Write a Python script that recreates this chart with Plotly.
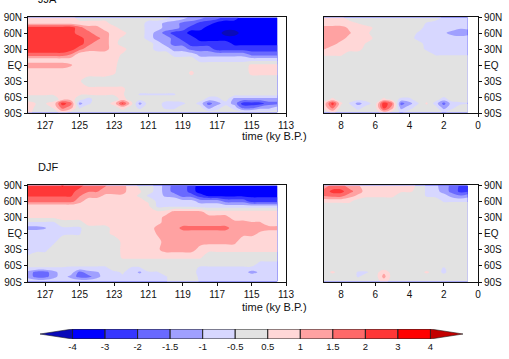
import numpy as np
import plotly.graph_objects as go

# ---------------- data ----------------
LAT = [89, 78, 70, 60, 50, 40, 30, 20, 10, 0, -15, -30, -45, -55, -64, -72, -80, -89]

T_LIG = [128.0, 127.5, 127.0, 126.5, 126.0, 125.5, 125.0, 124.5, 124.0, 123.5,
         123.0, 122.5, 122.0, 121.5, 121.0, 120.5, 120.0, 119.5, 119.0, 118.5,
         118.0, 117.5, 117.0, 116.5, 116.0, 115.5, 115.0, 114.5, 114.0, 113.5]
T_HOL = [9.0, 8.5, 8.0, 7.5, 7.0, 6.5, 6.0, 5.5, 5.0, 4.5, 4.0, 3.5, 3.0, 2.5, 2.0, 1.5, 1.0, 0.6]

JJA_LIG = [
    [0.7, 0.7, 0.7, 0.7, 0.7, 0.7, 0, 0, 0, 0, 0, 0, 0, 0, 0, 0, 0, -0.7, -0.7, -1.2, -1.2, -1.7, -1.7, -2.5, -2.5, -3.5, -3.5, -3.5, -3.5, -3.5],
    [0.9, 0.9, 0.9, 0.9, 0.9, 0.9, 0.7, 0.7, 0.7, 0.7, 0, 0, 0, 0, -0.7, -0.7, -1.2, -1.2, -1.7, -1.7, -2.5, -2.5, -3.5, -3.5, -3.5, -3.5, -3.5, -3.5, -3.5, -3.5],
    [2.5, 2.5, 2.5, 2.5, 2.5, 2.5, 1.7, 1.2, 1.2, 0.7, 0.7, 0, 0, 0, -0.7, -0.7, -1.2, -1.2, -1.7, -2.5, -2.5, -3.5, -3.5, -3.5, -3.5, -3.5, -3.5, -3.5, -3.5, -3.5],
    [2.5, 2.5, 2.5, 2.5, 2.5, 2.5, 1.7, 1.7, 1.2, 1.2, 0.7, 0.7, 0, 0, -0.7, -1.2, -1.7, -2.5, -2.5, -3.5, -3.5, -3.5, -3.5, -4.5, -4.5, -3.5, -3.5, -3.5, -3.5, -3.5],
    [2.5, 2.5, 2.5, 2.5, 2.5, 2.5, 2.5, 1.7, 1.7, 1.2, 0.7, 0.3, 0, 0, -0.7, -1.2, -1.2, -1.7, -2.5, -2.5, -3.5, -3.5, -3.5, -3.5, -3.5, -3.5, -3.5, -3.5, -3.5, -3.5],
    [2.5, 2.5, 2.5, 2.5, 2.5, 2.5, 2.5, 1.7, 1.2, 1.2, 0.7, 0, 0, 0, 0, -0.7, -1.2, -1.7, -1.7, -2.5, -2.5, -2.5, -2.5, -2.5, -3.2, -3.2, -3.2, -3.2, -3.2, -3.2],
    [2.5, 2.5, 2.5, 2.5, 2.5, 2.5, 1.7, 1.2, 1.2, 1.2, 0.7, 0.7, 0, 0, 0, -0.7, -0.7, -1.2, -1.2, -1.7, -1.7, -1.7, -2.5, -2.5, -2.5, -2.5, -2.5, -2.5, -2.5, -2.5],
    [1.9, 1.9, 1.9, 1.9, 1.9, 1.5, 0.7, 0.7, 0.7, 0.7, 0.7, 0.4, 0.4, 0, 0, 0, 0, -0.7, -0.7, -0.7, -1.2, -1.2, -1.2, -1.2, -1.2, -1.2, -1.7, -1.7, -1.7, -1.7],
    [0.7, 0.7, 0.7, 0.7, 0.7, 0.7, 0.7, 0.7, 0.7, 0.7, 0.6, 0.3, 0.3, 0, 0, 0, 0, 0, 0, 0, -0.7, -0.7, -0.7, -0.7, -0.7, -0.7, -0.7, -0.7, -0.7, -0.7],
    [1.2, 1.2, 1.2, 1.2, 1.2, 1.05, 0.7, 0.7, 0.7, 0.7, 0.55, 0.3, 0.3, 0, 0, 0, 0, 0, 0, 0, 0, 0, 0, 0, 0, 0, 0.6, 0.6, 0.6, 0.6],
    [0.7, 0.7, 0.7, 0.7, 0.7, 0.7, 0.7, 0.7, 0.7, 0.7, 0.55, 0, 0, 0, 0, 0, 0, 0, 0, 0.6, 0, 0, 0, 0, 0, 0, 0.6, 0.6, 0.6, 0.6],
    [0.55, 0.55, 0.55, 0.55, 0.55, 0.55, 0.55, 0, 0, 0, 0, 0, 0, 0, 0, 0, 0, 0, 0, 0, 0, 0, 0, 0, 0, 0, 0, 0, 0, 0],
    [0.6, 0.6, 0.6, 0.6, 0.6, 0.6, 0.6, 0.6, 0.6, 0.6, 0.6, 0.6, 0, 0, 0, 0, 0, 0, 0, 0, 0, 0, 0, 0, 0, 0, 0, 0, 0, 0],
    [0.55, 0.55, 0.55, 0.55, 0.55, 0.55, 0.55, 0.55, 0.55, 0.55, 0.55, 0.55, 0, -0.55, -0.55, -0.55, -0.55, -0.55, 0, 0, 0, 0, 0, 0, 0, 0, 0, 0, 0, 0],
    [0, 0, 0, 0, 0.7, 0.7, 0, -0.7, 0, 0, 0, 0.7, 0, 0, 0, 0, 0, 0, 0, 0, 0, -0.7, -0.7, 0, -1.2, -1.2, -1.2, -1.2, -1.2, -1.2],
    [0.7, 0.45, 0.45, 0.7, 2.5, 1.7, -1.2, -0.6, 0, 0, 0.7, 2.2, 0.7, -1.2, 0, 0, -0.7, -0.7, -0.6, 0, -0.7, -1.7, -1.2, -0.7, -1.2, -2.5, -2.5, -2.5, -1.7, -1.7],
    [0.7, 0.3, 0, 0.55, 1.7, 1.2, -0.55, 0, 0, 0, 0, 0.7, 0, -0.6, 0, 0, -0.6, -0.6, 0, 0, 0, -1.2, -0.7, 0, -0.7, -1.7, -1.7, -1.2, -1.2, -0.7],
    [0.7, 0, 0, 0, 0.7, 0, 0, 0, 0, 0, 0, 0, 0, 0, 0, 0, 0, 0, 0, 0, 0, 0, 0, 0, 0, 0, 0, 0, 0, 0],
]

JJA_HOL = [
    [0.6, 0.6, 0.6, 0, 0, 0, 0, 0, 0, 0, 0, 0, 0, 0, -0.6, -0.6, -0.6, -0.6],
    [0.7, 0.7, 0.7, 0.7, 0.5, 0, 0, 0, 0, 0, 0, 0, -0.55, -0.7, -0.7, -0.7, -0.7, -0.7],
    [1.2, 1.2, 1.2, 0.9, 0.7, 0.7, 0.3, 0, 0, 0, 0, 0, -0.7, -0.7, -0.7, -0.7, -0.9, -0.9],
    [1.2, 1.2, 1.2, 1.05, 0.7, 0.6, 0, 0, 0, 0, 0, -0.55, -0.7, -0.7, -0.9, -1.2, -1.4, -1.2],
    [1.2, 1.2, 1.2, 0.8, 0.7, 0.7, 0.3, 0, 0, 0, 0, -0.7, -0.7, -0.7, -0.7, -0.7, -0.7, -0.7],
    [1.2, 1.2, 0.8, 0.7, 0.7, 0.4, 0, 0, 0, 0, 0, 0, -0.7, -0.7, -0.7, -0.7, -0.7, -0.7],
    [1.05, 0.7, 0.7, 0.7, 0.7, 0, 0, 0, 0, 0, 0, 0, -0.6, -0.6, -0.6, -0.6, -0.6, -0.6],
    [0.6, 0.6, 0.6, 0, 0, 0, 0, 0, 0, 0, 0, 0, 0, -0.55, -0.55, -0.55, -0.55, -0.55],
    [0, 0, 0, 0, 0, 0, 0, 0, 0, 0, 0, 0, 0, 0, 0, 0, 0, 0],
    [0, 0, 0, 0, 0, 0, 0, 0, 0, 0, 0, 0, 0, 0, 0, 0, 0, 0],
    [0, 0, 0, 0, 0, 0, 0, 0, 0, 0, 0, 0, 0, 0, 0, 0, 0, 0],
    [0, 0, 0, 0, 0, 0, 0, 0, 0, 0, 0, 0, 0, 0, 0, 0, 0, 0],
    [0, 0, 0, 0, 0, 0, 0, 0, 0, 0, 0, 0, 0, 0, 0, 0, 0, 0],
    [0, 0, 0, 0, 0, 0, 0, 0, 0, 0, 0, 0, 0, 0, 0, 0, 0, 0],
    [0, 0.6, 0, 0, 0, 0, 0, 0.6, 0, -0.6, -0.6, 0, 0, 0, -0.7, 0, 0, 0],
    [0.7, 2.5, 0.6, -0.55, -1.2, -0.7, 0, 2.8, 1.5, -1.7, -1.2, -0.55, 0.6, -0.7, -1.7, -0.7, -0.6, -0.55],
    [0.6, 1.7, 0, 0, -0.7, 0, 0, 2.5, 1.2, -1.2, -0.7, 0, 0, 0, -1.2, -0.6, 0, 0],
    [0, 0.6, 0, 0, 0, 0, 0, 0.8, 0, -0.55, 0, 0, 0, 0, -0.55, 0, 0, 0],
]

DJF_LIG = [
    [2.5, 2.5, 2.5, 2.5, 3.1, 2.5, 2.5, 1.7, 1.7, 1.55, 1.2, 1.2, 0.7, 0.3, 0, -0.7, -1.2, -1.7, -1.7, -2.5, -3.5, -3.5, -3.5, -3.5, -3.5, -3.5, -3.5, -3.5, -3.5, -3.5],
    [2.5, 2.5, 2.5, 2.5, 2.5, 2.5, 1.7, 1.55, 1.55, 1.2, 1.2, 1.2, 0.7, 0.55, 0, -0.7, -1.2, -1.7, -1.7, -2.5, -3.5, -3.5, -3.5, -3.5, -3.5, -3.5, -3.5, -3.5, -3.5, -3.5],
    [2.1, 2.1, 2.1, 2.1, 2.1, 2.1, 1.55, 1.2, 1.2, 0.9, 0.9, 0.9, 0.6, 0.4, -0.6, -0.7, -1.1, -1.2, -1.7, -1.7, -2.5, -3.2, -3.2, -3.2, -3.2, -3.2, -3.2, -3.2, -3.2, -3.2],
    [1.7, 1.7, 1.7, 1.7, 1.7, 1.7, 1.2, 0.7, 0.7, 0.7, 0.7, 0.7, 0.6, 0.6, 0.4, -0.6, -0.6, -0.6, -0.8, -0.8, -1.2, -1.2, -1.2, -1.7, -1.7, -1.7, -2.5, -2.5, -2.5, -2.5],
    [0.6, 0.6, 0.6, 0.6, 0.6, 0.6, 0.6, 0.6, 0.6, 0.6, 0.6, 0.6, 0.6, 0.6, 0.6, -0.55, -0.55, -0.55, -0.55, -0.55, -0.7, -0.7, -0.7, -0.7, -0.7, -0.7, -0.7, -0.7, -0.7, -0.7],
    [0.6, 0.6, 0.6, 0.6, 0.6, 0.6, 0.6, 0.6, 0.6, 0.6, 0.6, 0.6, 0.6, 0.6, 0.6, 0.6, 0.7, 1.2, 1.2, 1.2, 1.2, 0.7, 0.7, 0.7, 0.7, 0.7, 0.7, 0.7, 0.7, 0.7],
    [0.6, 0.6, 0.6, 0.6, 0.6, 0.6, 0.6, 0.6, 0.6, 0.6, 0.6, 0.6, 0.6, 0.6, 0.6, 0.7, 1.2, 1.2, 1.2, 1.2, 1.2, 1.2, 1.2, 1.2, 0.7, 0.7, 0.7, 0.7, 0.7, 0.7],
    [-0.6, -0.6, -0.6, -0.6, 0.3, 0.3, 0.3, 0.6, 0.6, 0.6, 0.6, 0.6, 0.6, 0.6, 0.6, 0.8, 1.2, 1.2, 1.2, 1.2, 1.2, 1.2, 1.2, 1.2, 1.2, 1.2, 1.05, 1.05, 0.7, 0.7],
    [-1.2, -1.2, -1.05, -0.6, -0.6, -0.6, -0.6, 0.3, 0.3, 0.3, 0.6, 0.6, 0.6, 0.6, 0.6, 1.2, 1.2, 1.2, 1.7, 1.7, 1.7, 1.7, 1.7, 1.7, 1.2, 1.2, 1.2, 1.2, 1.2, 1.2],
    [-0.6, -0.6, -0.6, -0.6, -0.6, -0.55, -0.55, 0.3, 0.3, 0.3, 0.6, 0.6, 0.6, 0.6, 0.6, 1.05, 1.2, 1.2, 1.2, 1.2, 1.2, 1.2, 1.2, 1.2, 1.2, 1.2, 1.2, 0.9, 0.7, 0.7],
    [-0.6, -0.6, -0.6, -0.6, 0, 0, 0, 0, 0, 0, 0, 0.6, 0.6, 0.6, 0.6, 0.8, 1.2, 1.2, 1.2, 1.2, 1.2, 1.2, 1.2, 1.2, 1.2, 0.6, 0.6, 0.6, 0.6, 0.6],
    [-1.05, -0.6, -0.6, 0, 0, 0, 0, 0, 0, 0, 0, 0.6, 0.6, 0.6, 0.6, 0.9, 1.2, 1.2, 1.2, 1.2, 0.8, 0.6, 0.6, 0.6, 0.6, 0.6, 0.6, 0.6, 0.6, 0.6],
    [0, 0, 0, 0, 0, 0, 0, 0, 0, 0, 0, 0.55, 0.55, 0.55, 0.55, 0.55, 0.55, 0.55, 0.55, 0.55, 0.55, 0, 0, 0, 0, 0, 0, 0, 0, 0],
    [0, 0, 0, 0, 0, 0, 0, 0, 0, 0, 0, 0, 0, 0, 0, 0, 0, 0, 0, 0, 0, 0, 0, 0, 0, 0, 0, -0.6, -0.6, -0.6],
    [-0.55, -0.55, -0.55, -0.55, -0.55, -0.6, -0.6, -0.6, -0.6, -0.6, 0, 0, -0.55, -0.55, 0, 0, 0, 0, 0, 0, -0.6, -0.6, -0.6, -0.6, -0.6, -0.6, -0.6, -0.6, -0.6, -0.6],
    [-1.2, -1.7, -1.7, -1.2, -0.7, -0.7, -1.7, -1.2, -1.05, -0.8, -0.6, -0.4, -0.7, -1.1, -0.55, -0.55, 0, 0, 0, 0, -0.7, -0.7, -0.7, -0.7, -0.7, -0.7, -1.2, -0.9, -0.7, -0.7],
    [-1.2, -1.7, -1.7, -1.2, -0.7, -1.2, -1.7, -1.7, -1.2, -0.7, -0.55, -0.55, -0.7, -0.7, -0.55, -0.55, -0.55, 0, 0, 0, -0.6, -0.6, -0.6, -0.6, -0.6, -0.6, -0.6, -0.6, -0.6, -0.6],
    [-0.6, -0.6, -0.6, -0.6, -0.6, -0.6, -0.6, -0.6, -0.6, -0.6, -0.55, -0.55, -0.55, -0.55, -0.55, -0.55, -0.55, 0, 0, 0, -0.55, -0.55, -0.55, -0.55, -0.55, -0.55, -0.55, -0.55, -0.55, -0.55],
]

DJF_HOL = [
    [1.2, 1.7, 1.7, 1.2, 1.05, 0.7, 0.7, 0.7, 0.7, 0.6, 0.6, 0.4, -0.6, -0.9, -1.2, -1.7, -2.2, -2.1],
    [1.7, 2.3, 2.3, 1.7, 1.2, 0.8, 0.7, 0.7, 0.7, 0.55, 0.55, 0.3, -0.6, -0.8, -1.2, -1.7, -2.3, -2.1],
    [1.55, 1.7, 1.7, 1.2, 0.9, 0.6, 0.6, 0.6, 0.6, 0, 0, 0, -0.55, -0.6, -0.8, -1.2, -1.45, -1.2],
    [0.6, 0.6, 0.6, 0.6, 0, 0, 0, 0, 0, 0, 0, 0, 0, 0, -0.55, -0.55, -0.55, -0.55],
    [0, 0, 0, 0, 0, 0, 0, 0, 0, 0, 0, 0, 0, 0, 0, 0, 0, 0],
    [0, 0, 0, 0, 0, 0, 0, 0, 0, 0, 0, 0, 0, 0, 0, 0, 0, 0],
    [0, 0, 0, 0, 0, 0, 0, 0, 0, 0, 0, 0, 0, 0, 0, 0, 0, 0],
    [0, 0, 0, 0, 0, 0, 0, 0, 0, 0, 0, 0, 0, 0, 0, 0, 0, 0],
    [0, 0, 0, 0, 0, 0, 0, 0, 0, 0, 0, 0, 0, 0, 0, 0, 0, 0],
    [0, 0, 0, 0, 0, 0, 0, 0, 0, 0, 0, 0, 0, 0, 0, 0, 0, 0],
    [0, 0, 0, 0, 0, 0, 0, 0, 0, 0, 0, 0, 0, 0, 0, 0, 0, 0],
    [0, 0, 0, 0, 0, 0, 0, 0, 0, 0, 0, 0, 0, 0, 0, 0, 0, 0],
    [0, 0, 0, 0, 0, 0, 0, 0, 0, 0, 0, 0, 0, 0, 0, 0, 0, 0],
    [0, 0, 0, 0, 0, 0, 0, 0, 0, 0, 0, 0, 0, 0, 0, 0, 0, 0],
    [0, 0, 0, 0, 0, 0, 0, 0, 0, 0, 0, 0, 0, 0, -0.55, 0, 0, 0],
    [0, 0.6, 0, 0, -0.55, -0.55, 0, 0.9, 0, 0, 0, 0, 0.6, 0, -0.6, 0, 0, 0],
    [0, 0, 0, 0, -0.55, 0, 0, 1.2, 0, 0, 0, 0, 0, 0, 0, 0, 0, 0],
    [0, 0, 0, 0, 0, 0, 0, 0.7, 0, 0, 0, 0, 0, 0, 0, 0, 0, 0],
]

LEVELS = [-4, -3, -2, -1.5, -1, -0.5, 0.5, 1, 1.5, 2, 3, 4]
LEVEL_LABELS = ["-4", "-3", "-2", "-1.5", "-1", "-0.5", "0.5", "1", "1.5", "2", "3", "4"]
COLORS = ["rgb(10,10,185)", "rgb(0,0,255)", "rgb(55,55,255)", "rgb(105,105,255)",
          "rgb(160,160,255)", "rgb(215,215,255)", "rgb(226,226,226)", "rgb(255,215,215)",
          "rgb(255,162,162)", "rgb(255,105,105)", "rgb(255,55,55)", "rgb(255,0,0)",
          "rgb(195,0,0)"]

LAT_TICKS = [90, 60, 30, 0, -30, -60, -90]
LAT_LABELS = ["90N", "60N", "30N", "EQ", "30S", "60S", "90S"]
LIG_TICKS = [127, 125, 123, 121, 119, 117, 115, 113]
HOL_TICKS = [8, 6, 4, 2, 0]

# ---------------- helpers ----------------
W, H = 509, 359
FONT = "Liberation Sans, Arial, sans-serif"
NL = len(LEVELS)


def to_index(z):
    z = np.asarray(z, dtype=float)
    idx = np.interp(z, LEVELS, np.arange(NL))
    idx = np.where(z < LEVELS[0], z - LEVELS[0], idx)
    idx = np.where(z > LEVELS[-1], NL - 1 + (z - LEVELS[-1]), idx)
    return idx


CSCALE = [[k / (NL), COLORS[k]] for k in range(NL + 1)]


def px_x(a, b):
    return [a / W, b / W]


def px_y(top, bottom):
    return [1 - bottom / H, 1 - top / H]


fig = go.Figure()

panels = [
    (JJA_LIG, T_LIG, "x", "y"),
    (JJA_HOL, T_HOL, "x2", "y2"),
    (DJF_LIG, T_LIG, "x3", "y3"),
    (DJF_HOL, T_HOL, "x4", "y4"),
]
for z, t, xa, ya in panels:
    fig.add_trace(go.Contour(
        x=t, y=LAT, z=to_index(z),
        autocontour=False,
        contours=dict(start=0, end=NL - 1, size=1, coloring="fill", showlines=False),
        line=dict(width=0, smoothing=1.0),
        colorscale=CSCALE, showscale=False, hoverinfo="skip",
        xaxis=xa, yaxis=ya,
    ))

tickfont = dict(family=FONT, size=10, color="#111")
axis_common = dict(showgrid=False, zeroline=False, showline=True, mirror=True,
                   linecolor="#111", linewidth=1, ticks="outside", ticklen=3,
                   tickcolor="#111", tickwidth=1, tickfont=tickfont)

lig_dom = px_x(28, 286)
hol_dom = px_x(324, 478)
top_dom = px_y(17, 113)
bot_dom = px_y(185, 282)

layout = dict(
    width=W, height=H, margin=dict(l=0, r=0, t=0, b=0, autoexpand=False),
    paper_bgcolor="white", plot_bgcolor="white", showlegend=False,
    xaxis=dict(domain=lig_dom, range=[128.0, 113], tickvals=LIG_TICKS, anchor="y", **axis_common),
    yaxis=dict(domain=top_dom, range=[-90, 90], tickvals=LAT_TICKS, ticktext=LAT_LABELS, anchor="x", **axis_common),
    xaxis2=dict(domain=hol_dom, range=[9.0, 0], tickvals=HOL_TICKS, anchor="y2", **axis_common),
    yaxis2=dict(domain=top_dom, range=[-90, 90], tickvals=LAT_TICKS, ticktext=LAT_LABELS, anchor="x2", side="right", **axis_common),
    xaxis3=dict(domain=lig_dom, range=[128.0, 113], tickvals=LIG_TICKS, anchor="y3", **axis_common),
    yaxis3=dict(domain=bot_dom, range=[-90, 90], tickvals=LAT_TICKS, ticktext=LAT_LABELS, anchor="x3", **axis_common),
    xaxis4=dict(domain=hol_dom, range=[9.0, 0], tickvals=HOL_TICKS, anchor="y4", **axis_common),
    yaxis4=dict(domain=bot_dom, range=[-90, 90], tickvals=LAT_TICKS, ticktext=LAT_LABELS, anchor="x4", side="right", **axis_common),
    # colorbar axis (index space of the levels)
    xaxis5=dict(domain=px_x(40, 463), range=[-1, NL], anchor="y5", showgrid=False, zeroline=False,
                showline=False, ticks="", tickvals=list(range(NL)), ticktext=LEVEL_LABELS,
                tickfont=dict(family=FONT, size=9.5, color="#111")),
    yaxis5=dict(domain=px_y(329, 339), range=[0, 1], anchor="x5", visible=False),
)
fig.update_layout(**layout)

# colorbar boxes and end triangles, from the level list
shapes = []
for k in range(NL - 1):
    shapes.append(dict(type="rect", xref="x5", yref="y5", x0=k, x1=k + 1, y0=0, y1=1,
                       fillcolor=COLORS[k + 1], line=dict(color="#222", width=1), layer="above"))
shapes.append(dict(type="path", xref="x5", yref="y5",
                   path="M 0,0 L -1,0.5 L 0,1 Z", fillcolor=COLORS[0],
                   line=dict(color="#222", width=0.6)))
shapes.append(dict(type="path", xref="x5", yref="y5",
                   path=f"M {NL - 1},0 L {NL},0.5 L {NL - 1},1 Z", fillcolor=COLORS[-1],
                   line=dict(color="#222", width=0.6)))
fig.update_layout(shapes=shapes)

ann_font = dict(family=FONT, size=11, color="#111")
annotations = [
    dict(text="JJA", xref="paper", yref="paper", x=36 / W, y=1.0, xanchor="left",
         yanchor="bottom", yshift=-7, showarrow=False, font=ann_font),
    dict(text="DJF", xref="paper", yref="paper", x=36 / W, y=1 - 167 / H, xanchor="left",
         yanchor="middle", showarrow=False, font=ann_font),
    dict(text="time (ky B.P.)", xref="paper", yref="paper", x=274 / W, y=1 - 136 / H,
         xanchor="center", yanchor="middle", showarrow=False, font=ann_font),
    dict(text="time (ky B.P.)", xref="paper", yref="paper", x=274 / W, y=1 - 307 / H,
         xanchor="center", yanchor="middle", showarrow=False, font=ann_font),
]
fig.update_layout(annotations=annotations)

fig.write_html("out.html", config={"displayModeBar": False})
